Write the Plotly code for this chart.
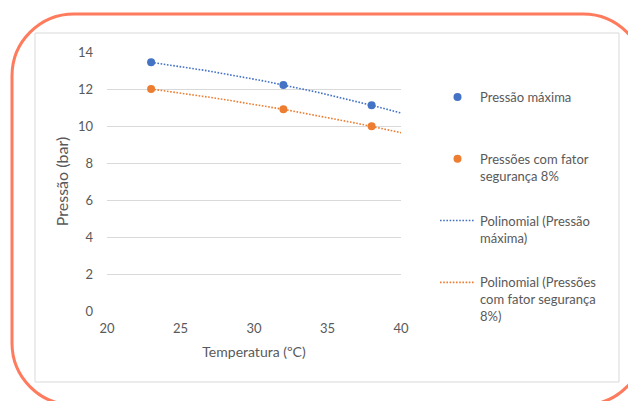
import numpy as np
import plotly.graph_objects as go

# ---- data ----
temperaturas = [23, 32, 38]
pressao_maxima = [13.44, 12.22, 11.12]
pressao_seguranca = [12.0, 10.9, 9.98]

nome_max = "Pressão máxima<br> "
nome_seg = "Pressões com fator<br>segurança 8%"
nome_poly_max = "Polinomial (Pressão<br>máxima)"
nome_poly_seg = "Polinomial (Pressões<br>com fator segurança<br>8%)"

x_ticks = [20, 25, 30, 35, 40]
y_ticks = [0, 2, 4, 6, 8, 10, 12, 14]

AZUL = "#4472C4"
LARANJA = "#ED7D31"
CINZA = "#595959"
FONT = "Lato"

# ---- polynomial (order 2) trendlines, forecast forward to 40 ----
xt = np.linspace(min(temperaturas), 40, 80)
fit_max = np.polyval(np.polyfit(temperaturas, pressao_maxima, 2), xt)
fit_seg = np.polyval(np.polyfit(temperaturas, pressao_seguranca, 2), xt)

# page body adds an 8px margin; work in reference-pixel coordinates
OFF = 8
W, H = 636 - OFF, 401 - OFF
L, R, T, B = 107, 401, 52, 311  # plot area in reference pixels


def px(x):
    return (x - L) / (R - L)


def py(y):
    return (B - y) / (B - T)


def rounded_rect(x0, y0, x1, y1, r):
    k = 0.5523 * r
    pts = [
        f"M{px(x0 + r)},{py(y0)}",
        f"L{px(x1 - r)},{py(y0)}",
        f"C{px(x1 - r + k)},{py(y0)} {px(x1)},{py(y0 + r - k)} {px(x1)},{py(y0 + r)}",
        f"L{px(x1)},{py(y1 - r)}",
        f"C{px(x1)},{py(y1 - r + k)} {px(x1 - r + k)},{py(y1)} {px(x1 - r)},{py(y1)}",
        f"L{px(x0 + r)},{py(y1)}",
        f"C{px(x0 + r - k)},{py(y1)} {px(x0)},{py(y1 - r + k)} {px(x0)},{py(y1 - r)}",
        f"L{px(x0)},{py(y0 + r)}",
        f"C{px(x0)},{py(y0 + r - k)} {px(x0 + r - k)},{py(y0)} {px(x0 + r)},{py(y0)}",
        "Z",
    ]
    return " ".join(pts)


fig = go.Figure()

fig.add_trace(go.Scatter(
    x=xt, y=fit_max, mode="lines", name=nome_poly_max, legendrank=3,
    line=dict(color=AZUL, width=1.6, dash="1.6px,1.6px"), legendgroup="c"))
fig.add_trace(go.Scatter(
    x=xt, y=fit_seg, mode="lines", name=nome_poly_seg, legendrank=4,
    line=dict(color=LARANJA, width=1.6, dash="1.6px,1.6px"), legendgroup="d"))
fig.add_trace(go.Scatter(
    x=temperaturas, y=pressao_maxima, mode="markers", name=nome_max, legendrank=1,
    marker=dict(color=AZUL, size=8), legendgroup="a", cliponaxis=False))
fig.add_trace(go.Scatter(
    x=temperaturas, y=pressao_seguranca, mode="markers", name=nome_seg, legendrank=2,
    marker=dict(color=LARANJA, size=8), legendgroup="b", cliponaxis=False))

shapes = [
    dict(type="rect", xref="paper", yref="paper",
         x0=px(35), x1=px(619), y0=py(382), y1=py(33),
         line=dict(color="#D9D9D9", width=1), fillcolor="white", layer="below"),
    dict(type="path", xref="paper", yref="paper",
         path=rounded_rect(12, 14, 645, 405, 62),
         line=dict(color="#FF7B5E", width=3), layer="below"),
]

fig.update_layout(
    width=W, height=H,
    margin=dict(l=L - OFF, r=636 - R, t=T - OFF, b=401 - B, pad=0),
    paper_bgcolor="white", plot_bgcolor="rgba(0,0,0,0)",
    font=dict(family=FONT, color=CINZA, size=13),
    shapes=shapes,
    showlegend=True,
    legend=dict(
        x=px(435), xanchor="left", y=py(82), yanchor="top",
        traceorder="grouped", tracegroupgap=25, valign="top",
        font=dict(family=FONT, size=13, color=CINZA),
        bgcolor="rgba(0,0,0,0)", itemwidth=35,
    ),
    xaxis=dict(
        range=[20, 40], tickvals=x_ticks, ticktext=[str(v) for v in x_ticks],
        showgrid=False, zeroline=False, showline=False, ticks="",
        ticklabelstandoff=8,
        tickfont=dict(family=FONT, size=13, color=CINZA),
        title=dict(text="Temperatura (ºC)", standoff=12,
                   font=dict(family=FONT, size=14, color=CINZA)),
        fixedrange=True,
    ),
    yaxis=dict(
        range=[0, 14], tickvals=y_ticks, ticktext=[str(v) for v in y_ticks],
        showgrid=True, gridcolor="#D9D9D9", gridwidth=1,
        zeroline=False, showline=False, ticks="",
        ticklabelstandoff=13,
        tickfont=dict(family=FONT, size=13, color=CINZA),
        title=dict(text="Pressão (bar)", standoff=5,
                   font=dict(family=FONT, size=16, color=CINZA)),
        fixedrange=True,
    ),
)

fig.write_html("out.html", config={"displayModeBar": False})
